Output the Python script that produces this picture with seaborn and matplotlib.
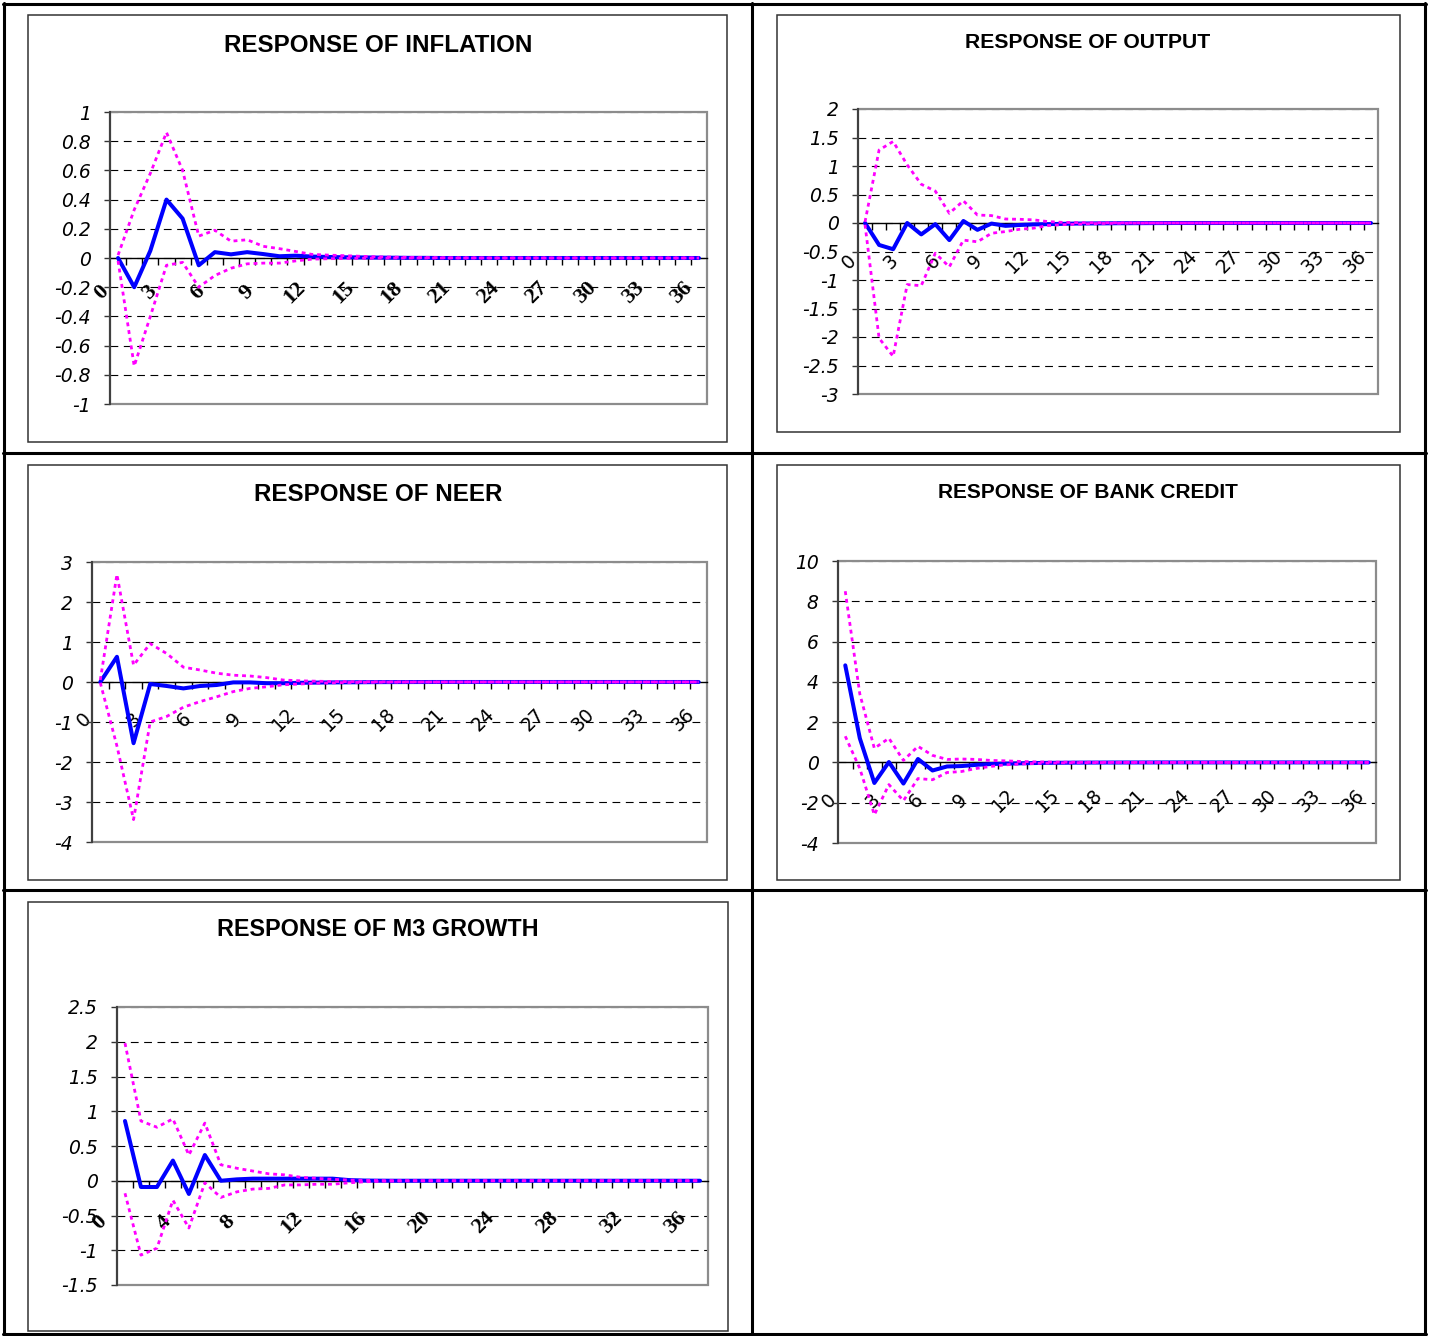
import numpy as np
import pandas as pd
import matplotlib
matplotlib.use("Agg")
import matplotlib.pyplot as plt
import matplotlib.transforms as mtransforms
from matplotlib.patches import Rectangle
from matplotlib.lines import Line2D
import seaborn as sns

# ---------------- data ----------------
periods = [0, 1, 2, 3, 4, 5, 6, 7, 8, 9, 10, 11, 12, 13, 14, 15, 16, 17, 18, 19,
           20, 21, 22, 23, 24, 25, 26, 27, 28, 29, 30, 31, 32, 33, 34, 35, 36]

inflation_irf = [
    0.000, -0.200, 0.050, 0.400, 0.270, -0.050, 0.040, 0.025, 0.040, 0.027,
    0.012, 0.016, 0.010, 0.007, 0.005, 0.004, 0.003, 0.002, 0.001, 0.001,
    0.000, 0.000, 0.000, 0.000, 0.000, 0.000, 0.000, 0.000, 0.000, 0.000,
    0.000, 0.000, 0.000, 0.000, 0.000, 0.000, 0.000]
inflation_upper = [
    0.020, 0.330, 0.580, 0.860, 0.600, 0.150, 0.190, 0.115, 0.125, 0.080,
    0.064, 0.045, 0.025, 0.020, 0.016, 0.012, 0.008, 0.006, 0.004, 0.003,
    0.002, 0.001, 0.001, 0.000, 0.000, 0.000, 0.000, 0.000, 0.000, 0.000,
    0.000, 0.000, 0.000, 0.000, 0.000, 0.000, 0.000]
inflation_lower = [
    -0.020, -0.740, -0.400, -0.050, -0.030, -0.200, -0.120, -0.070, -0.040, -0.035,
    -0.035, -0.020, -0.008, -0.005, -0.003, -0.002, -0.001, 0.000, 0.000, 0.000,
    0.000, 0.000, 0.000, 0.000, 0.000, 0.000, 0.000, 0.000, 0.000, 0.000,
    0.000, 0.000, 0.000, 0.000, 0.000, 0.000, 0.000]

output_irf = [
    0.000, -0.385, -0.460, 0.000, -0.200, -0.020, -0.300, 0.035, -0.120, -0.010,
    -0.050, -0.035, -0.025, -0.020, -0.015, -0.010, -0.008, -0.006, -0.004, -0.003,
    -0.002, -0.001, 0.000, 0.000, 0.000, 0.000, 0.000, 0.000, 0.000, 0.000,
    0.000, 0.000, 0.000, 0.000, 0.000, 0.000, 0.000]
output_upper = [
    0.020, 1.280, 1.430, 1.020, 0.680, 0.560, 0.170, 0.390, 0.140, 0.130,
    0.070, 0.065, 0.055, 0.025, 0.012, 0.006, 0.004, 0.003, 0.002, 0.001,
    0.000, 0.000, 0.000, 0.000, 0.000, 0.000, 0.000, 0.000, 0.000, 0.000,
    0.000, 0.000, 0.000, 0.000, 0.000, 0.000, 0.000]
output_lower = [
    -0.030, -2.020, -2.340, -1.080, -1.100, -0.530, -0.770, -0.300, -0.330, -0.180,
    -0.150, -0.110, -0.090, -0.045, -0.030, -0.020, -0.012, -0.008, -0.005, -0.003,
    -0.002, -0.001, 0.000, 0.000, 0.000, 0.000, 0.000, 0.000, 0.000, 0.000,
    0.000, 0.000, 0.000, 0.000, 0.000, 0.000, 0.000]

neer_irf = [
    0.000, 0.630, -1.530, -0.050, -0.100, -0.160, -0.100, -0.075, -0.010, -0.010,
    -0.030, -0.030, -0.020, -0.015, -0.010, -0.008, -0.005, -0.003, -0.002, -0.001,
    0.000, 0.000, 0.000, 0.000, 0.000, 0.000, 0.000, 0.000, 0.000, 0.000,
    0.000, 0.000, 0.000, 0.000, 0.000, 0.000, 0.000]
neer_upper = [
    0.050, 2.690, 0.420, 0.960, 0.710, 0.370, 0.300, 0.220, 0.170, 0.150,
    0.110, 0.050, 0.030, 0.020, 0.012, 0.008, 0.005, 0.003, 0.002, 0.001,
    0.000, 0.000, 0.000, 0.000, 0.000, 0.000, 0.000, 0.000, 0.000, 0.000,
    0.000, 0.000, 0.000, 0.000, 0.000, 0.000, 0.000]
neer_lower = [
    -0.020, -1.600, -3.440, -1.000, -0.860, -0.630, -0.490, -0.370, -0.240, -0.160,
    -0.120, -0.070, -0.050, -0.030, -0.020, -0.012, -0.008, -0.005, -0.003, -0.002,
    -0.001, 0.000, 0.000, 0.000, 0.000, 0.000, 0.000, 0.000, 0.000, 0.000,
    0.000, 0.000, 0.000, 0.000, 0.000, 0.000, 0.000]

credit_irf = [
    4.820, 1.200, -1.020, 0.020, -1.050, 0.170, -0.400, -0.200, -0.180, -0.120,
    -0.080, -0.060, -0.045, -0.030, -0.020, -0.015, -0.010, -0.007, -0.005, -0.003,
    -0.002, -0.001, 0.000, 0.000, 0.000, 0.000, 0.000, 0.000, 0.000, 0.000,
    0.000, 0.000, 0.000, 0.000, 0.000, 0.000, 0.000]
credit_upper = [
    8.500, 3.400, 0.700, 1.200, 0.100, 0.800, 0.350, 0.150, 0.170, 0.150,
    0.100, 0.080, 0.050, 0.030, 0.020, 0.012, 0.008, 0.005, 0.003, 0.002,
    0.001, 0.000, 0.000, 0.000, 0.000, 0.000, 0.000, 0.000, 0.000, 0.000,
    0.000, 0.000, 0.000, 0.000, 0.000, 0.000, 0.000]
credit_lower = [
    1.300, -0.300, -2.600, -1.100, -1.900, -0.800, -0.860, -0.500, -0.450, -0.300,
    -0.200, -0.120, -0.080, -0.050, -0.030, -0.020, -0.012, -0.008, -0.005, -0.003,
    -0.002, -0.001, 0.000, 0.000, 0.000, 0.000, 0.000, 0.000, 0.000, 0.000,
    0.000, 0.000, 0.000, 0.000, 0.000, 0.000, 0.000]

m3_irf = [
    0.860, -0.090, -0.090, 0.290, -0.190, 0.370, 0.000, 0.020, 0.030, 0.030,
    0.030, 0.030, 0.030, 0.030, 0.010, 0.003, 0.001, 0.000, 0.000, 0.000,
    0.000, 0.000, 0.000, 0.000, 0.000, 0.000, 0.000, 0.000, 0.000, 0.000,
    0.000, 0.000, 0.000, 0.000, 0.000, 0.000, 0.000]
m3_upper = [
    1.980, 0.860, 0.770, 0.890, 0.370, 0.830, 0.230, 0.180, 0.140, 0.100,
    0.085, 0.050, 0.035, 0.020, 0.010, 0.005, 0.003, 0.002, 0.001, 0.000,
    0.000, 0.000, 0.000, 0.000, 0.000, 0.000, 0.000, 0.000, 0.000, 0.000,
    0.000, 0.000, 0.000, 0.000, 0.000, 0.000, 0.000]
m3_lower = [
    -0.180, -1.070, -0.970, -0.280, -0.680, -0.030, -0.240, -0.160, -0.120, -0.110,
    -0.060, -0.060, -0.050, -0.050, -0.030, -0.015, -0.008, -0.004, -0.002, -0.001,
    0.000, 0.000, 0.000, 0.000, 0.000, 0.000, 0.000, 0.000, 0.000, 0.000,
    0.000, 0.000, 0.000, 0.000, 0.000, 0.000, 0.000]

titles = ["RESPONSE OF INFLATION", "RESPONSE OF OUTPUT", "RESPONSE OF NEER",
          "RESPONSE OF BANK CREDIT", "RESPONSE OF M3 GROWTH"]

xticks_3 = [0, 3, 6, 9, 12, 15, 18, 21, 24, 27, 30, 33, 36]
xticks_4 = [0, 4, 8, 12, 16, 20, 24, 28, 32, 36]

inflation_yticks = [1, 0.8, 0.6, 0.4, 0.2, 0, -0.2, -0.4, -0.6, -0.8, -1]
inflation_ylabels = ["1", "0.8", "0.6", "0.4", "0.2", "0", "-0.2", "-0.4", "-0.6", "-0.8", "-1"]
output_yticks = [2, 1.5, 1, 0.5, 0, -0.5, -1, -1.5, -2, -2.5, -3]
output_ylabels = ["2", "1.5", "1", "0.5", "0", "-0.5", "-1", "-1.5", "-2", "-2.5", "-3"]
neer_yticks = [3, 2, 1, 0, -1, -2, -3, -4]
neer_ylabels = ["3", "2", "1", "0", "-1", "-2", "-3", "-4"]
credit_yticks = [10, 8, 6, 4, 2, 0, -2, -4]
credit_ylabels = ["10", "8", "6", "4", "2", "0", "-2", "-4"]
m3_yticks = [2.5, 2, 1.5, 1, 0.5, 0, -0.5, -1, -1.5]
m3_ylabels = ["2.5", "2", "1.5", "1", "0.5", "0", "-0.5", "-1", "-1.5"]

# ---------------- style ----------------
sns.set_style("white")
plt.rcParams["font.family"] = ["DejaVu Sans"]
plt.rcParams["axes.unicode_minus"] = False
plt.rcParams["text.color"] = "black"
plt.rcParams["xtick.color"] = "black"
plt.rcParams["ytick.color"] = "black"
plt.rcParams["xtick.labelcolor"] = "black"
plt.rcParams["ytick.labelcolor"] = "black"

W, H = 1430, 1336
fig = plt.figure(figsize=(W / 100, H / 100), dpi=100)
fig.patch.set_facecolor("white")


def fx(x):
    return x / W


def fy(y):
    return 1 - y / H


BLUE = "#0000FF"
MAGENTA = "#FF00FF"


def panel(plot_box, frame_box, irf, upper, lower, yticks, ylabels, xticks,
          title, title_xy, title_size, xfont, xweight, xsize, xoff):
    # chart frame
    fx0, fy0, fx1, fy1 = frame_box
    fig.add_artist(Rectangle((fx(fx0), fy(fy1)), (fx1 - fx0) / W, (fy1 - fy0) / H,
                             transform=fig.transFigure, fill=False,
                             ec="#333333", lw=1.1, zorder=0))
    fig.text(fx(title_xy[0]), fy(title_xy[1]), title, ha="center", va="center",
             fontsize=title_size, fontweight="bold", family="Liberation Sans",
             color="black")

    x0, y0, x1, y1 = plot_box
    ax = fig.add_axes([fx(x0), fy(y1), (x1 - x0) / W, (y1 - y0) / H])
    df = pd.DataFrame({"period": periods, "irf": irf, "upper": upper, "lower": lower})
    sns.lineplot(data=df, x="period", y="irf", ax=ax, color=BLUE, lw=2.9,
                 errorbar=None, sort=False, zorder=3)
    for col in ["upper", "lower"]:
        sns.lineplot(data=df, x="period", y=col, ax=ax, color=MAGENTA, lw=2.0,
                     linestyle=(0, (1.4, 1.4)), errorbar=None, sort=False, zorder=4)

    ax.set_xlim(-0.5, 36.5)
    ax.set_ylim(min(yticks), max(yticks))
    ax.set_xlabel("")
    ax.set_ylabel("")

    # spines first (set_position resets ticks)
    for s in ["top", "right"]:
        ax.spines[s].set_visible(False)
    ax.spines["bottom"].set_position(("data", 0))
    ax.spines["bottom"].set_color("black")
    ax.spines["bottom"].set_linewidth(1.0)
    ax.spines["bottom"].set_zorder(2.6)
    ax.spines["left"].set_color("#404040")
    ax.spines["left"].set_linewidth(1.5)
    ax.spines["left"].set_zorder(2.7)

    ax.tick_params(axis="x", which="major", length=0, pad=0, bottom=True)
    ax.tick_params(axis="x", which="minor", length=5, width=1, color="black",
                   direction="out", bottom=True)
    ax.tick_params(axis="y", which="major", length=4, width=1, color="#333333",
                   direction="out", pad=10, left=True, labelcolor="black")

    ax.set_yticks(yticks)
    ax.set_yticklabels(ylabels, fontstyle="italic", fontsize=13.5, family="DejaVu Sans",
                       color="black")
    ax.set_xticks(xticks)
    ax.set_xticklabels([str(t) for t in xticks], family=xfont, fontweight=xweight,
                       fontsize=xsize, rotation=45, ha="center", va="center",
                       color="black")
    ax.set_xticks(np.arange(0.5, 36.0, 1.0), minor=True)

    ax.yaxis.grid(True, color="black", lw=0.8, linestyle=(0, (7, 5)))
    ax.xaxis.grid(False)
    ax.set_axisbelow(True)
    ax.add_patch(Rectangle((0, 0), 1, 1, transform=ax.transAxes, fill=False,
                           ec="#8c8c8c", lw=1.6, clip_on=False, zorder=2.4))

    offset = mtransforms.ScaledTranslation(xoff[0] / 100, xoff[1] / 100, fig.dpi_scale_trans)
    for lab in ax.xaxis.get_majorticklabels():
        lab.set_transform(lab.get_transform() + offset)
    return ax


panel((110, 112, 707, 404), (28, 15, 727, 442), inflation_irf, inflation_upper, inflation_lower,
      inflation_yticks, inflation_ylabels, xticks_3, titles[0], (378, 45), 17.4,
      "Liberation Serif", "bold", 16, (-17, -35))
panel((858, 109, 1378, 394), (777, 15, 1400, 432), output_irf, output_upper, output_lower,
      output_yticks, output_ylabels, xticks_3, titles[1], (1088, 43), 15.2,
      "DejaVu Sans", "normal", 13.5, (-16, -39))
panel((92, 562, 707, 842), (28, 465, 727, 880), neer_irf, neer_upper, neer_lower,
      neer_yticks, neer_ylabels, xticks_3, titles[2], (378, 494), 17.4,
      "DejaVu Sans", "normal", 13.5, (-16, -38))
panel((838, 561, 1376, 843), (777, 465, 1400, 880), credit_irf, credit_upper, credit_lower,
      credit_yticks, credit_ylabels, xticks_3, titles[3], (1088, 492), 15.0,
      "DejaVu Sans", "normal", 13.5, (-16, -38))
panel((117, 1007, 708, 1285), (28, 902, 728, 1331), m3_irf, m3_upper, m3_lower,
      m3_yticks, m3_ylabels, xticks_4, titles[4], (378, 930), 16.8,
      "Liberation Serif", "bold", 16, (-25, -42))

# table grid lines
for xv in [4, 752, 1425]:
    fig.add_artist(Line2D([fx(xv), fx(xv)], [fy(3), fy(1335)], color="black", lw=2.2,
                          transform=fig.transFigure))
for yv in [4, 453, 890, 1334]:
    fig.add_artist(Line2D([fx(3), fx(1426)], [fy(yv), fy(yv)], color="black", lw=2.2,
                          transform=fig.transFigure))

fig.savefig("out.png", dpi=100, facecolor="white")
